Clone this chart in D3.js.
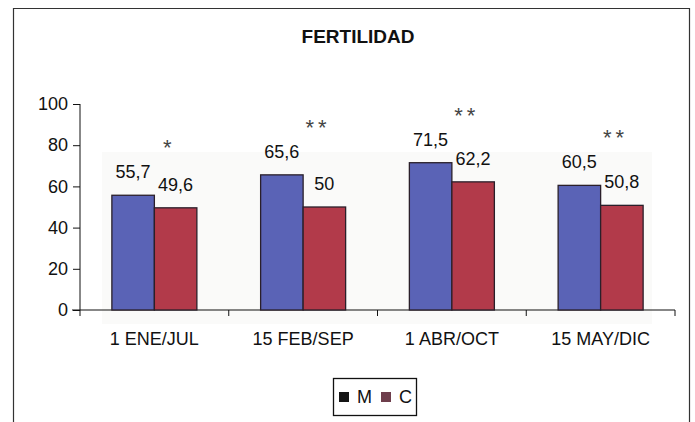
<!DOCTYPE html>
<html><head><meta charset="utf-8">
<script src="https://cdn.jsdelivr.net/npm/d3@7"></script>
<style>body{margin:0;background:#fff}svg{display:block}text{font-family:Arial,"Liberation Sans",sans-serif}</style>
</head><body>
<svg id="c" width="695" height="422"></svg>
<script>
const categories = ["1 ENE/JUL", "15 FEB/SEP", "1 ABR/OCT", "15 MAY/DIC"];
const seriesNames = ["M", "C"];
const valuesM = [55.7, 65.6, 71.5, 60.5];
const valuesC = [49.6, 50, 62.2, 50.8];
const signif = ["*", "**", "**", "**"];
const yTicks = [0, 20, 40, 60, 80, 100];
const title = "FERTILIDAD";

const svg = d3.select("#c");
const colors = {M: "#5a63b6", C: "#b23a4a"};
const legendColors = {M: "#141414", C: "#6e3e4c"};

// outer frame (open at bottom)
svg.append("path").attr("d", "M13.5,422 V8.5 H689.5 V422")
  .attr("fill", "none").attr("stroke", "#333").attr("stroke-width", 1.2);

// faint scan background behind bars
svg.append("rect").attr("x", 102).attr("y", 152).attr("width", 550).attr("height", 172).attr("fill", "#fafaf9");

svg.append("text").attr("x", 358).attr("y", 43).attr("text-anchor", "middle")
  .attr("font-size", 19).attr("font-weight", "bold").attr("fill", "#111").text(title);

const x = d3.scaleBand().domain(categories).range([80, 675]).paddingInner(0).paddingOuter(0);
const y = d3.scaleLinear().domain([0, 100]).range([310, 104]);
const inner = d3.scaleBand().domain(seriesNames).range([0, x.bandwidth()]).paddingInner(0).paddingOuter(0.75);

// y axis
const yAxis = svg.append("g").attr("transform", "translate(80,0)")
  .call(d3.axisLeft(y).tickValues(yTicks).tickSize(7).tickPadding(5).tickFormat(d3.format("d")));
yAxis.select(".domain").attr("d", "M0," + y(100) + "V" + (y(0) + 6)).attr("stroke", "#111");
yAxis.selectAll(".tick line").attr("stroke", "#111");
yAxis.selectAll("text").attr("font-size", 18).attr("fill", "#111").attr("font-family", "Arial, 'Liberation Sans', sans-serif");

// x axis
const xAxis = svg.append("g").attr("transform", "translate(0," + y(0) + ")");
xAxis.append("line").attr("x1", 72).attr("x2", 675).attr("stroke", "#111").attr("stroke-width", 1.2);
const bounds = categories.map(c => x(c) + x.bandwidth());
xAxis.selectAll("line.tk").data(bounds).join("line").attr("class", "tk")
  .attr("x1", d => d).attr("x2", d => d).attr("y1", 0).attr("y2", 6).attr("stroke", "#111");
xAxis.selectAll("text").data(categories).join("text")
  .attr("x", d => x(d) + x.bandwidth() / 2).attr("y", 35).attr("text-anchor", "middle")
  .attr("font-size", 18).attr("fill", "#111").text(d => d);

const data = categories.map((c, i) => ({cat: c, M: valuesM[i], C: valuesC[i], s: signif[i]}));

const g = svg.append("g");
data.forEach(d => {
  seriesNames.forEach(s => {
    const bx = x(d.cat) + inner(s);
    g.append("rect").attr("x", bx).attr("y", y(d[s])).attr("width", inner.bandwidth())
      .attr("height", y(0) - y(d[s])).attr("fill", colors[s]).attr("stroke", "#2a1f2a").attr("stroke-width", 1.3);
    g.append("text").attr("x", bx + inner.bandwidth() / 2).attr("y", y(d[s]) - 17)
      .attr("text-anchor", "middle").attr("font-size", 18).attr("fill", "#111")
      .text(d3.format(".1~f")(d[s]).replace(".", ","));
  });
  const top = y(Math.max(d.M, d.C));
  g.append("text").attr("x", x(d.cat) + x.bandwidth() / 2 + 15).attr("y", top - 40)
    .attr("text-anchor", "middle").attr("font-size", 22).attr("font-weight", 300).attr("letter-spacing", 4).attr("fill", "#444")
    .text(d.s);
});

// legend
const lg = svg.append("g");
lg.append("rect").attr("x", 333.5).attr("y", 378.5).attr("width", 83).attr("height", 37)
  .attr("fill", "#fff").attr("stroke", "#111").attr("stroke-width", 1.3);
const lx = [339, 381];
seriesNames.forEach((s, i) => {
  lg.append("rect").attr("x", lx[i]).attr("y", 392).attr("width", 10).attr("height", 10).attr("fill", legendColors[s]);
  lg.append("text").attr("x", lx[i] + 18).attr("y", 403).attr("font-size", 18).attr("fill", "#111").text(s);
});
</script>
</body></html>
